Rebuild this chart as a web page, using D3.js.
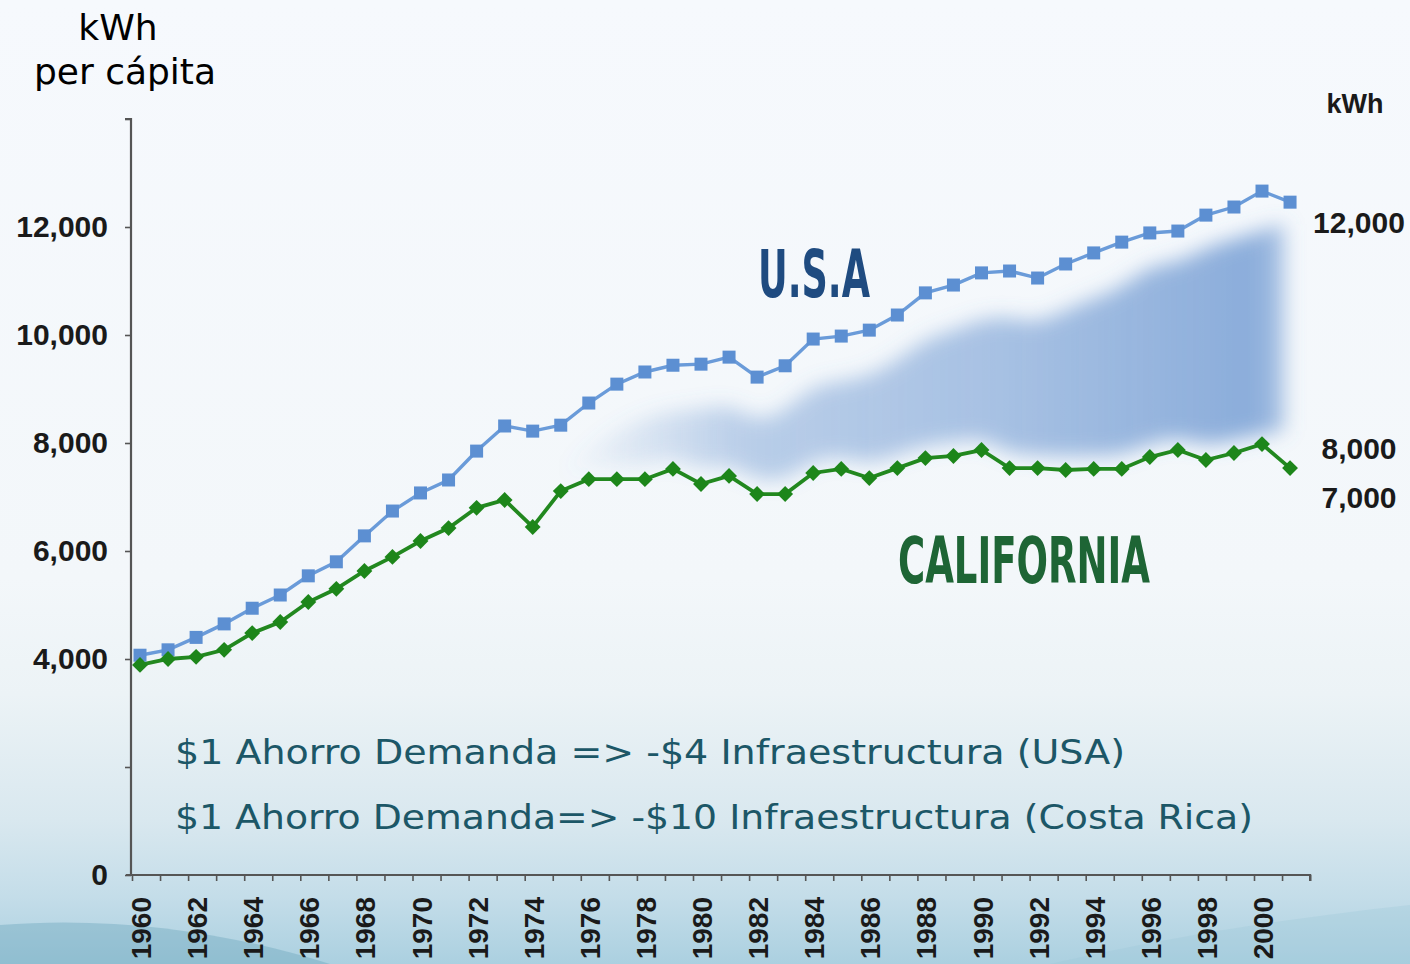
<!DOCTYPE html>
<html>
<head>
<meta charset="utf-8">
<script src="https://cdn.jsdelivr.net/npm/d3@7/dist/d3.min.js"></script>
<style>
  body, html { margin:0; padding:0; background:#f5f8fc; }
  svg { display:block; }
</style>
</head>
<body>
<svg id="chart" width="1410" height="964"></svg>
<script>
// data (kWh per capita)
var years = d3.range(1960, 2002);
var usaValues = [4070, 4170, 4400, 4650, 4940, 5185, 5540, 5800, 6280, 6740,
                 7075, 7315, 7850, 8315, 8220, 8330, 8740, 9090, 9315, 9440,
                 9460, 9590, 9220, 9430, 9925, 9980, 10090, 10370, 10780, 10925,
                 11150, 11185, 11055, 11315, 11520, 11720, 11890, 11925, 12220, 12370,
                 12665, 12460];
var caValues = [3890, 4000, 4040, 4170, 4480, 4685, 5055, 5300, 5630, 5890,
                6185, 6425, 6800, 6945, 6445, 7110, 7330, 7330, 7330, 7520,
                7240, 7390, 7055, 7055, 7445, 7520, 7350, 7535, 7720, 7760,
                7870, 7535, 7535, 7500, 7520, 7520, 7740, 7870, 7685, 7815,
                7980, 7535];
var yTicks = [0, 2000, 4000, 6000, 8000, 10000, 12000, 14000];
var yLabels = [0, 4000, 6000, 8000, 10000, 12000];
var rightLabels = [12000, 8000, 7000];
var xLabelYears = d3.range(1960, 2001, 2);
var notes = ["$1 Ahorro Demanda => -$4 Infraestructura (USA)",
             "$1 Ahorro Demanda=> -$10 Infraestructura (Costa Rica)"];

var svg = d3.select("#chart");
var defs = svg.append("defs");

// background
var bg = defs.append("linearGradient").attr("id", "bg").attr("x1", 0).attr("y1", 0).attr("x2", 0).attr("y2", 1);
[[0, "#f6f9fd"], [0.6, "#f3f7fa"], [0.72, "#ecf3f6"], [0.85, "#d9e8ef"], [0.93, "#c4dde9"], [1, "#abd0e0"]]
  .forEach(function(s){ bg.append("stop").attr("offset", s[0]).attr("stop-color", s[1]); });
svg.append("rect").attr("width", 1410).attr("height", 964).attr("fill", "url(#bg)");
svg.append("path")
   .attr("d", "M0,925 C120,915 240,935 330,964 L0,964 Z")
   .attr("fill", "#5f9db5").attr("opacity", 0.35);
svg.append("path")
   .attr("d", "M1050,964 C1200,930 1320,915 1410,905 L1410,964 Z")
   .attr("fill", "#9cc6d6").attr("opacity", 0.3);

var x = d3.scaleLinear().domain([1960, 2000]).range([140, 1262]);
var xTick = d3.scaleLinear().domain([1960, 2000]).range([132, 1254]);
var y = d3.scaleLinear().domain([0, 14000]).range([875, 119]);

var usa = years.map(function(yr, i){ return {year: yr, v: usaValues[i]}; });
var ca = years.map(function(yr, i){ return {year: yr, v: caValues[i]}; });

// shaded gap between the two series
var blur = defs.append("filter").attr("id", "blur").attr("x", "-20%").attr("y", "-20%").attr("width", "140%").attr("height", "140%");
blur.append("feGaussianBlur").attr("stdDeviation", 10);
var sg = defs.append("linearGradient").attr("id", "gapFill")
   .attr("gradientUnits", "userSpaceOnUse")
   .attr("x1", x(1975)).attr("x2", x(2001)).attr("y1", 0).attr("y2", 0);
[[0, 0], [0.25, 0.38], [0.6, 0.5], [0.95, 0.68], [1, 0.45]]
  .forEach(function(s){ sg.append("stop").attr("offset", s[0]).attr("stop-color", "#5a8acb").attr("stop-opacity", s[1]); });
var gapData = years.map(function(yr, i){ return {year: yr, top: usaValues[i] - (yr > 1995 ? 600 : 850), bot: caValues[i] + 250}; })
   .filter(function(d){ return d.year >= 1975 && d.year <= 2000; });
svg.append("path")
   .datum(gapData)
   .attr("fill", "url(#gapFill)")
   .attr("filter", "url(#blur)")
   .attr("d", d3.area().curve(d3.curveBasis)
      .x(function(d){ return x(d.year) + (d.year === 2000 ? 22 : 0); })
      .y0(function(d){ return y(d.bot); })
      .y1(function(d){ return y(d.top); }));

// axes
var yAxis = d3.axisLeft(y).tickValues(yTicks).tickSize(6).tickFormat("");
var gy = svg.append("g").attr("transform", "translate(131,0)").call(yAxis);
gy.select(".domain").attr("stroke", "#555").attr("stroke-width", 2.2).attr("d", "M-6," + y(14000) + "H0V" + y(0));
gy.selectAll(".tick line").attr("stroke", "#555").attr("stroke-width", 1.6);

var xAxis = d3.axisBottom(xTick).tickValues(d3.range(1960, 2003)).tickSize(6).tickSizeOuter(0).tickFormat("");
var gx = svg.append("g").attr("transform", "translate(0," + y(0) + ")").call(xAxis);
gx.select(".domain").attr("stroke", "#555").attr("stroke-width", 2.2)
  .attr("d", "M126,0H" + xTick(2002) + "V6");
gx.selectAll(".tick line").attr("stroke", "#555").attr("stroke-width", 1.6);

svg.append("g").selectAll("text").data(yLabels).enter().append("text")
   .attr("x", 108).attr("y", function(d){ return y(d) + 10; })
   .attr("text-anchor", "end")
   .style("font", "bold 30px 'Liberation Sans', Arial, sans-serif").attr("fill", "#1a1a1a")
   .text(function(d){ return d3.format(",")(d); });

svg.append("g").selectAll("text").data(xLabelYears).enter().append("text")
   .attr("transform", function(d){ return "translate(" + (x(d) + 11) + ",897) rotate(-90)"; })
   .attr("text-anchor", "end")
   .style("font", "bold 28px 'Liberation Sans', Arial, sans-serif").attr("fill", "#1a1a1a")
   .text(function(d){ return d; });

// right side labels
svg.append("text").attr("x", 1355).attr("y", 113).attr("text-anchor", "middle")
   .style("font", "bold 27px 'Liberation Sans', Arial, sans-serif").attr("fill", "#1a1a1a").text("kWh");
svg.append("g").selectAll("text").data(rightLabels).enter().append("text")
   .attr("x", 1359).attr("y", function(d, i){ return [233, 459, 508][i]; })
   .attr("text-anchor", "middle")
   .style("font", "bold 30px 'Liberation Sans', Arial, sans-serif").attr("fill", "#1a1a1a")
   .text(function(d){ return d3.format(",")(d); });

// left title
svg.append("text").attr("x", 118).attr("y", 40).attr("text-anchor", "middle")
   .style("font", "36px 'DejaVu Sans', Verdana, sans-serif").attr("fill", "#000").text("kWh");
svg.append("text").attr("x", 125).attr("y", 84).attr("text-anchor", "middle")
   .style("font", "36px 'DejaVu Sans', Verdana, sans-serif").attr("fill", "#000").text("per cápita");

// lines
var line = d3.line().x(function(d){ return x(d.year); }).y(function(d){ return y(d.v); });
svg.append("path").datum(usa).attr("fill", "none").attr("stroke", "#6a9bd9").attr("stroke-width", 3.4).attr("d", line);
svg.append("path").datum(ca).attr("fill", "none").attr("stroke", "#22881f").attr("stroke-width", 3.8).attr("d", line);

svg.append("g").selectAll("rect").data(usa).enter().append("rect")
   .attr("x", function(d){ return x(d.year) - 6.5; }).attr("y", function(d){ return y(d.v) - 6.5; })
   .attr("width", 13).attr("height", 13).attr("fill", "#5c8fd2");
svg.append("g").selectAll("path").data(ca).enter().append("path")
   .attr("transform", function(d){ return "translate(" + x(d.year) + "," + y(d.v) + ")"; })
   .attr("d", d3.symbol().type(d3.symbolDiamond2).size(160))
   .attr("fill", "#1d861a");

// series names
svg.append("text").attr("x", 758).attr("y", 297).attr("textLength", 112).attr("lengthAdjust", "spacingAndGlyphs")
   .style("font", "bold 66px 'DejaVu Sans Condensed', 'DejaVu Sans', sans-serif").attr("fill", "#1f4b80").text("U.S.A");
svg.append("text").attr("x", 898).attr("y", 583).attr("textLength", 252).attr("lengthAdjust", "spacingAndGlyphs")
   .style("font", "bold 64px 'DejaVu Sans Condensed', 'DejaVu Sans', sans-serif").attr("fill", "#1e6535").text("CALIFORNIA");

// notes
svg.append("g").selectAll("text").data(notes).enter().append("text")
   .attr("x", 175).attr("y", function(d, i){ return 764 + i * 65; })
   .attr("textLength", function(d, i){ return i === 0 ? 950 : 1078; })
   .attr("lengthAdjust", "spacingAndGlyphs")
   .style("font", "34px 'DejaVu Sans', Verdana, sans-serif").attr("fill", "#1c5767")
   .text(function(d){ return d; });
</script>
</body>
</html>
